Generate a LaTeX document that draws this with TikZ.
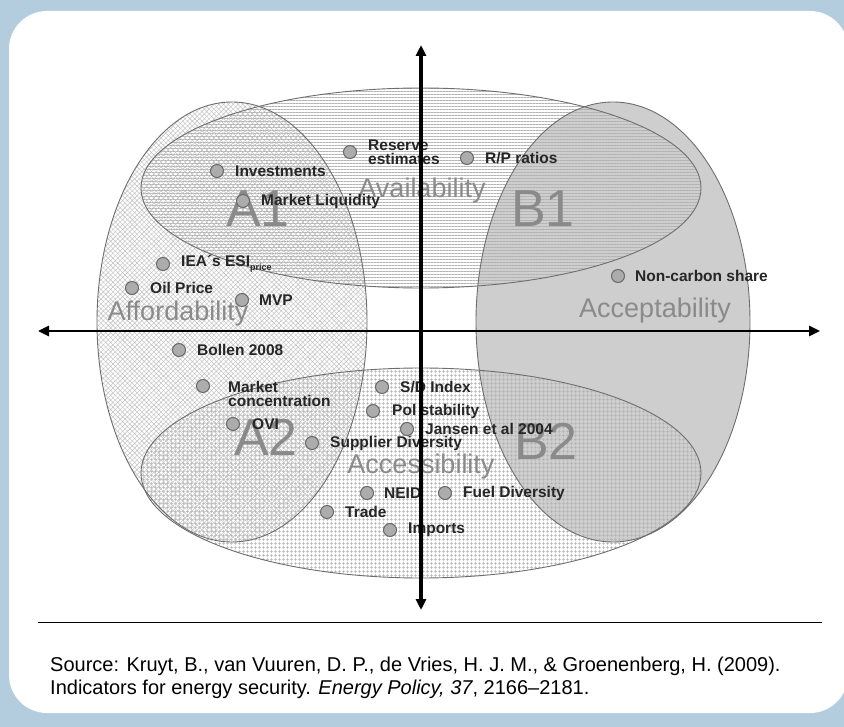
\documentclass[tikz,border=0pt]{standalone}
\usepackage{fontspec}
\setmainfont{Liberation Sans}
\usetikzlibrary{patterns.meta,arrows.meta}
\definecolor{bgblue}{RGB}{180,205,222}
\definecolor{accgray}{RGB}{206,206,206}
\definecolor{biglbl}{RGB}{138,138,138}
\definecolor{dotfill}{RGB}{172,172,172}
\definecolor{dotline}{RGB}{105,105,105}
\definecolor{outl}{RGB}{110,110,110}
\definecolor{stripegray}{RGB}{178,178,178}
\definecolor{gridgray}{RGB}{178,178,178}
\definecolor{hatchgray}{RGB}{192,192,192}
\begin{document}
\begin{tikzpicture}[x=1pt,y=-1pt,
  outline/.style={draw=outl, line width=0.9pt},
  biglabel/.style={text=biglbl, font=\fontsize{27}{30}\selectfont, inner sep=0, anchor=base},
  zonelabel/.style={text=biglbl, font=\fontsize{52}{56}\selectfont, inner sep=0, anchor=base},
  ind/.style={circle, fill=dotfill, draw=dotline, line width=1pt, minimum size=13pt, inner sep=0},
  indtext/.style={font=\bfseries\fontsize{15.5}{16}\selectfont, text=black!85, inner sep=0, anchor=west, align=left},
  axisline/.style={line width=3.2pt, {Triangle[length=11pt,width=10pt]}-{Triangle[length=11pt,width=10pt]}},
  srctext/.style={font=\fontsize{20}{23}\selectfont, inner sep=0, anchor=base west}
]
\useasboundingbox (0,0) rectangle (844,727);
\clip (0,0) rectangle (844,727);
\fill[bgblue] (0,0) rectangle (844,727);
\fill[white, rounded corners=38pt] (9,11) rectangle (848,713);

% regions
\fill[accgray] (613,322) ellipse [x radius=137pt, y radius=220pt];
\fill[pattern={Lines[angle=0,distance=3pt,line width=0.6pt]}, pattern color=stripegray] (421,188) ellipse [x radius=280pt, y radius=100pt];
\fill[pattern={Hatch[angle=0,distance=4pt,line width=0.5pt]}, pattern color=gridgray] (421,473) ellipse [x radius=280pt, y radius=105pt];
\fill[pattern={Hatch[angle=45,distance=3.4pt,line width=0.45pt]}, pattern color=hatchgray] (232,322) ellipse [x radius=135pt, y radius=220pt];
\draw[outline] (613,322) ellipse [x radius=137pt, y radius=220pt];
\draw[outline] (421,188) ellipse [x radius=280pt, y radius=100pt];
\draw[outline] (421,473) ellipse [x radius=280pt, y radius=105pt];
\draw[outline] (232,322) ellipse [x radius=135pt, y radius=220pt];

% big labels
\node[biglabel] (lavail) at (422,198) {Availability};
\node[biglabel] (lafford) at (178,321) {Affordability};
\node[biglabel] (laccept) at (655,318) {Acceptability};
\node[biglabel] (laccess) at (421,473) {Accessibility};
\node[zonelabel] (za1) at (258,227) {A1};
\node[zonelabel] (zb1) at (543,227) {B1};
\node[zonelabel] (za2) at (266,455) {A2};
\node[zonelabel] (zb2) at (546,460) {B2};

% indicators
\node[ind] (inv) at (217,171) {};
\node[indtext] (invt) at ([xshift=11pt]inv.east) {Investments};
\node[ind] (mliq) at (243,201) {};
\node[indtext] (mliqt) at ([xshift=11pt]mliq.east) {Market Liquidity};
\node[ind] (res) at (350,152) {};
\node[indtext] (rest) at ([xshift=11pt]res.east) {Reserve\\[-2pt]estimates};
\node[ind] (rp) at (467,158) {};
\node[indtext] (rpt) at ([xshift=11pt]rp.east) {R/P ratios};
\node[ind] (ncs) at (618,276) {};
\node[indtext] (ncst) at ([xshift=10pt]ncs.east) {Non-carbon share};
\node[ind] (iea) at (163,264) {};
\node[indtext] (ieat) at ([xshift=11pt]iea.east) {IEA´s ESI\raisebox{-4pt}{\fontsize{9}{9}\selectfont price}};
\node[ind] (oil) at (132,288) {};
\node[indtext] (oilt) at ([xshift=11pt]oil.east) {Oil Price};
\node[ind] (mvp) at (242,300) {};
\node[indtext] (mvpt) at ([xshift=10pt]mvp.east) {MVP};
\node[ind] (bol) at (179,350) {};
\node[indtext] (bolt) at ([xshift=11pt]bol.east) {Bollen 2008};
\node[ind] (mc) at (203,386) {};
\node[indtext] (mct) at ([xshift=18pt,yshift=-8pt]mc.east) {Market\\[-2pt]concentration};
\node[ind] (ovi) at (233,424) {};
\node[indtext] (ovit) at ([xshift=12pt]ovi.east) {OVI};
\node[ind] (sup) at (312,443) {};
\node[indtext] (supt) at ([xshift=11pt]sup.east) {Supplier Diversity};
\node[ind] (sd) at (382,387) {};
\node[indtext] (sdt) at ([xshift=11pt]sd.east) {S/D Index};
\node[ind] (pol) at (373,411) {};
\node[indtext] (polt) at ([xshift=12pt]pol.east) {Pol stability};
\node[ind] (jan) at (407,429) {};
\node[indtext] (jant) at ([xshift=11pt]jan.east) {Jansen et al 2004};
\node[ind] (neid) at (367,493) {};
\node[indtext] (neidt) at ([xshift=10pt]neid.east) {NEID};
\node[ind] (fuel) at (445,493) {};
\node[indtext] (fuelt) at ([xshift=11pt]fuel.east) {Fuel Diversity};
\node[ind] (trade) at (327,512) {};
\node[indtext] (tradet) at ([xshift=11pt]trade.east) {Trade};
\node[ind] (imp) at (390,530) {};
\node[indtext] (impt) at ([xshift=11pt]imp.east) {Imports};

% axes
\coordinate (vtop) at (421,45);
\coordinate (vbot) at (421,610);
\coordinate (hleft) at (38,331);
\coordinate (hright) at (820,331);
\draw[axisline] (vbot) -- (vtop);
\draw[axisline, line width=2.6pt] (hleft) -- (hright);

% rule and source
\coordinate (rl) at (38,622);
\coordinate (rr) at (822,622);
\draw[line width=1pt] (rl) -- (rr);
\node[srctext] (src1) at (50,671) {Source: Kruyt, B., van Vuuren, D. P., de Vries, H. J. M., \& Groenenberg, H. (2009).};
\node[srctext] (src2) at (50,694) {Indicators for energy security. \textit{Energy Policy, 37}, 2166–2181.};
\end{tikzpicture}
\end{document}
